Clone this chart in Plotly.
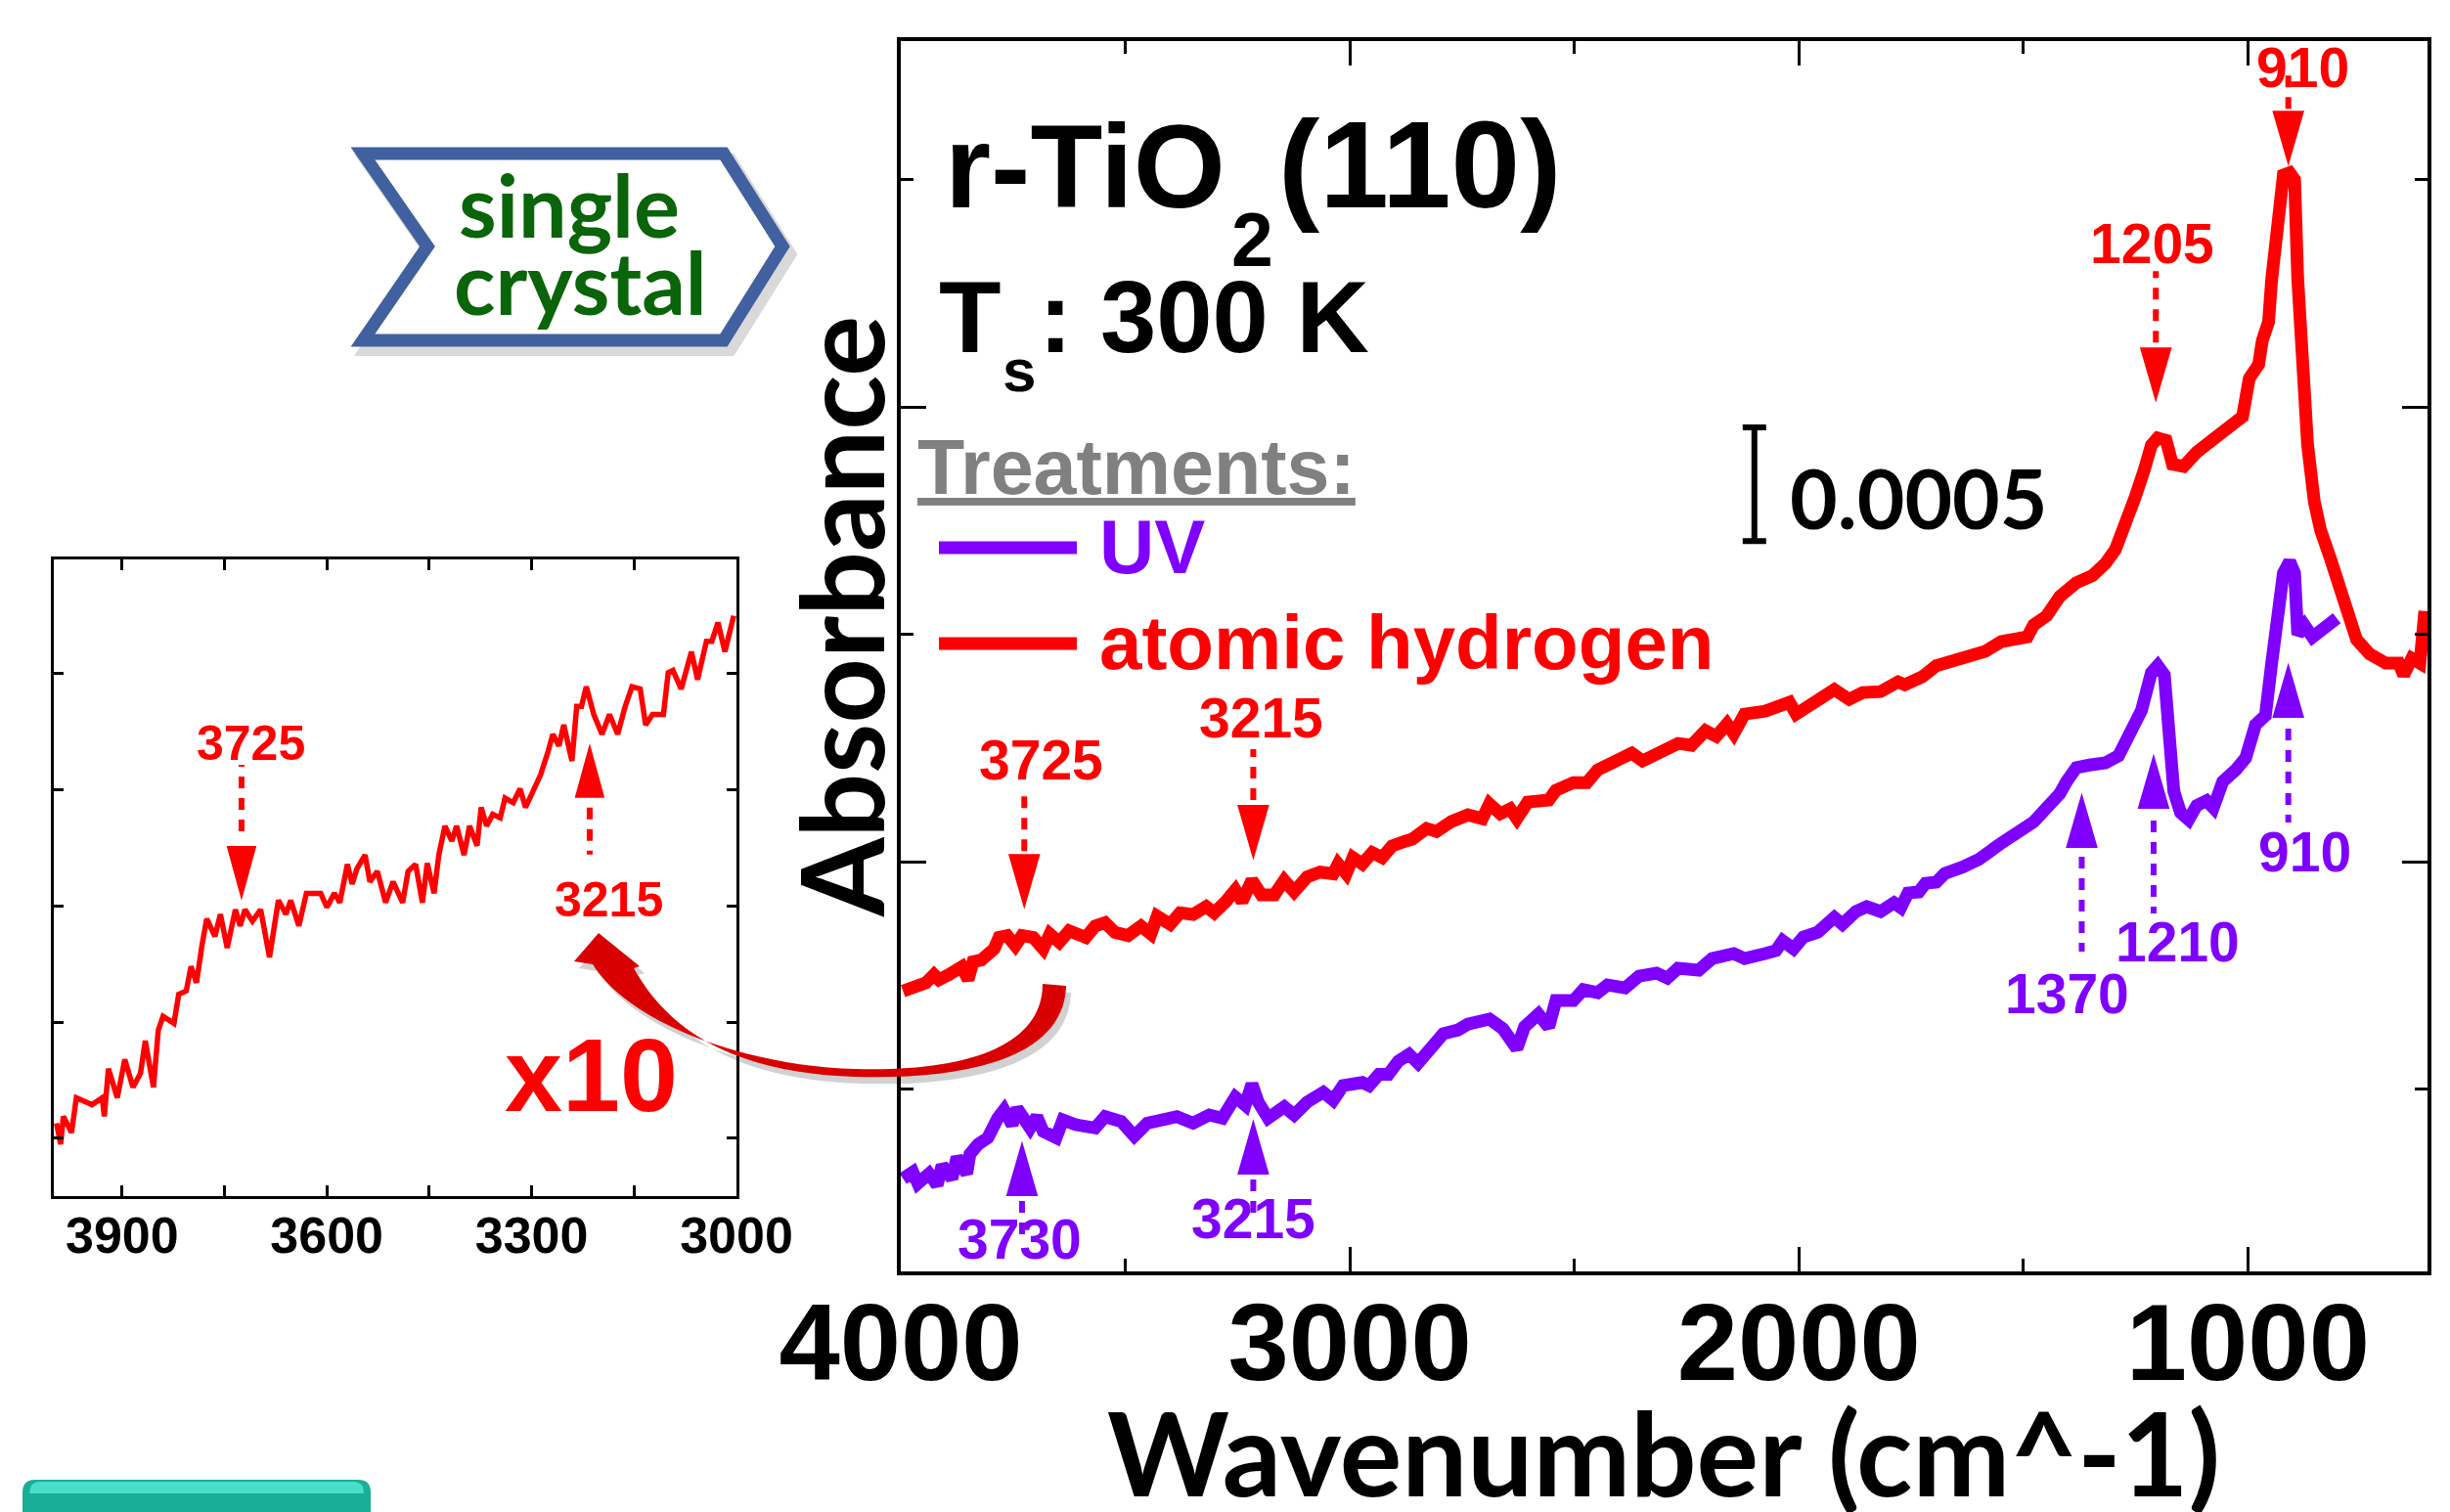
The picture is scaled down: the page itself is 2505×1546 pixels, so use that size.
import plotly.graph_objects as go

# ---------------- data (absorbance in units of 1e-4, wavenumber in cm^-1) ----------------
red_wn = [3995, 3966, 3944, 3926, 3915, 3893, 3875, 3864, 3850, 3839, 3821, 3806, 3792, 3781,
          3763, 3745, 3730, 3705, 3683, 3668, 3647, 3625, 3588, 3567, 3545, 3523, 3494, 3465,
          3443, 3429, 3400, 3378, 3349, 3320, 3302, 3276, 3255, 3240, 3218, 3197, 3168, 3146,
          3124, 3095, 3066, 3037, 3026, 3008, 2993, 2972, 2950, 2928, 2906, 2877, 2861, 2829,
          2807, 2774, 2737, 2705, 2689, 2665, 2643, 2628, 2604, 2557, 2541, 2502, 2472, 2448,
          2411, 2372, 2348, 2308, 2269, 2239, 2208, 2184, 2160, 2145, 2121, 2075, 2051, 2021,
          2006, 1958, 1921, 1888, 1858, 1818, 1779, 1764, 1725, 1694, 1636, 1585, 1549, 1491,
          1477, 1448, 1419, 1382, 1346, 1317, 1295, 1273, 1251, 1230, 1215, 1201, 1182, 1168,
          1143, 1114, 1077, 1041, 1012, 997, 976, 968, 954, 947, 932, 921, 907, 896, 889, 878,
          867, 852, 838, 816, 795, 780, 758, 729, 693, 664, 653, 635, 617, 606]
red_abs = [-5.69, -5.41, -5.33, -4.97, -5.19, -4.97, -4.83, -4.62, -5.19, -4.40, -4.33, -4.04,
           -3.83, -3.33, -3.25, -3.69, -3.25, -3.33, -3.83, -3.18, -3.54, -3.04, -3.33, -2.83,
           -2.68, -3.11, -3.25, -2.83, -3.18, -2.40, -2.75, -2.25, -2.32, -1.97, -2.25, -1.75,
           -1.25, -1.75, -0.82, -1.46, -1.46, -0.82, -1.32, -0.67, -0.46, -0.53, -0.10, -0.53,
           0.18, -0.10, 0.40, 0.18, 0.69, 0.90, 0.99, 1.46, 1.33, 1.76, 2.06, 1.89, 2.54, 2.11,
           2.32, 1.89, 2.62, 2.71, 3.14, 3.48, 3.48, 4.04, 4.34, 4.77, 4.43, 4.86, 5.20, 5.12,
           5.76, 5.51, 6.06, 5.63, 6.49, 6.62, 6.80, 7.01, 6.49, 7.14, 7.57, 7.14, 7.44, 7.48,
           7.91, 7.78, 8.13, 8.62, 8.95, 9.25, 9.68, 9.89, 10.41, 10.81, 11.66, 12.27, 12.58,
           13.12, 13.73, 14.77, 16.03, 17.28, 18.32, 18.63, 18.53, 17.48, 17.38, 18.01, 18.53,
           19.05, 19.57, 21.25, 21.87, 22.91, 23.74, 25.62, 28.33, 30.20, 30.30, 30.00, 25.62,
           21.44, 18.32, 15.82, 14.57, 13.32, 11.86, 10.81, 9.77, 9.14, 8.73, 8.73, 8.21, 8.94,
           8.73, 11.02]

uv_wn = [3995, 3973, 3962, 3937, 3919, 3908, 3886, 3875, 3853, 3846, 3828, 3806, 3784, 3770,
         3752, 3741, 3712, 3697, 3683, 3654, 3639, 3610, 3567, 3545, 3509, 3480, 3451, 3422,
         3385, 3349, 3313, 3284, 3255, 3233, 3218, 3204, 3182, 3146, 3124, 3095, 3059, 3037,
         3015, 2972, 2957, 2935, 2914, 2892, 2868, 2848, 2829, 2792, 2759, 2737, 2689, 2659,
         2628, 2611, 2580, 2557, 2541, 2502, 2480, 2448, 2426, 2387, 2356, 2317, 2293, 2269,
         2223, 2193, 2145, 2121, 2075, 2051, 2036, 2012, 1990, 1958, 1921, 1903, 1873, 1849,
         1818, 1788, 1773, 1757, 1733, 1718, 1694, 1675, 1636, 1600, 1549, 1506, 1477, 1448,
         1419, 1404, 1382, 1353, 1317, 1288, 1266, 1237, 1215, 1201, 1186, 1175, 1165, 1150,
         1132, 1114, 1092, 1077, 1056, 1027, 1005, 983, 961, 947, 936, 921, 907, 896, 889, 874,
         856, 824, 802]
uv_abs = [-13.94, -13.65, -14.15, -13.72, -14.22, -13.36, -13.94, -13.00, -13.72, -12.86, -12.43,
          -12.14, -11.28, -10.92, -11.57, -10.85, -11.71, -11.21, -11.86, -12.14, -11.36, -11.57,
          -11.71, -11.21, -11.43, -12.07, -11.50, -11.43, -11.21, -11.50, -11.14, -11.28, -10.35,
          -10.71, -9.78, -10.57, -11.28, -10.78, -11.14, -10.57, -10.14, -10.49, -9.85, -9.71,
          -9.85, -9.35, -9.35, -8.78, -8.47, -8.86, -8.43, -7.57, -7.40, -7.14, -6.92, -7.35,
          -8.22, -7.27, -6.71, -7.27, -6.11, -6.11, -5.63, -5.76, -5.42, -5.55, -5.03, -4.90,
          -5.12, -4.69, -4.77, -4.26, -4.04, -4.26, -4.04, -3.91, -3.48, -3.83, -3.31, -3.10,
          -2.45, -2.75, -2.19, -1.98, -2.19, -1.81, -2.02, -1.38, -1.33, -0.95, -0.90, -0.52,
          -0.24, 0.09, 0.82, 1.33, 1.75, 2.37, 2.99, 3.52, 4.14, 4.25, 4.35, 4.66, 5.60, 6.65,
          8.31, 8.62, 8.21, 5.81, 3.10, 2.16, 1.85, 2.47, 2.68, 2.37, 3.52, 4.04, 4.56, 6.02,
          6.43, 8.73, 10.19, 12.69, 13.21, 12.69, 9.98, 10.40, 9.88, 10.29, 10.71]

# x10 magnified inset of the atomic-hydrogen spectrum (arbitrary units)
inset_wn = [3996, 3990, 3986, 3974, 3967, 3944, 3929, 3926, 3920, 3907, 3896, 3884, 3873, 3866,
            3854, 3847, 3840, 3824, 3817, 3806, 3799, 3791, 3783, 3776, 3764, 3756, 3746, 3734,
            3727, 3720, 3709, 3697, 3684, 3671, 3660, 3653, 3641, 3630, 3609, 3600, 3589, 3581,
            3570, 3563, 3556, 3544, 3537, 3526, 3514, 3503, 3489, 3481, 3470, 3460, 3453, 3443,
            3436, 3427, 3417, 3410, 3399, 3391, 3380, 3374, 3366, 3357, 3346, 3339, 3327, 3317,
            3309, 3297, 3287, 3276, 3269, 3260, 3253, 3241, 3234, 3227, 3220, 3209, 3197, 3186,
            3174, 3163, 3153, 3141, 3133, 3123, 3107, 3100, 3093, 3081, 3066, 3057, 3044, 3036,
            3027, 3017, 3004]
inset_abs = [0.13, -0.05, 0.19, 0.05, 0.35, 0.29, 0.35, 0.19, 0.60, 0.35, 0.68, 0.44, 0.56,
             0.84, 0.44, 0.93, 1.05, 0.99, 1.24, 1.27, 1.48, 1.34, 1.66, 1.89, 1.74, 1.93, 1.64,
             1.97, 1.83, 1.97, 1.87, 1.97, 1.56, 2.05, 1.93, 2.05, 1.83, 2.11, 2.11, 1.99, 2.11,
             2.03, 2.36, 2.19, 2.32, 2.44, 2.21, 2.30, 2.03, 2.21, 2.03, 2.30, 2.36, 2.03, 2.37,
             2.11, 2.44, 2.69, 2.56, 2.69, 2.44, 2.69, 2.52, 2.85, 2.69, 2.79, 2.76, 2.93, 2.89,
             3.01, 2.85, 3.01, 3.13, 3.33, 3.48, 3.38, 3.56, 3.25, 3.72, 3.72, 3.89, 3.65, 3.48,
             3.65, 3.48, 3.72, 3.89, 3.87, 3.56, 3.65, 3.65, 4.01, 4.03, 3.87, 4.19, 3.95, 4.28,
             4.28, 4.44, 4.19, 4.50]

red_peaks = [3725, 3215, 1205, 910]
red_tips = [-1.94, 0.22, 20.34, 30.75]
uv_peaks = [3730, 3215, 1370, 1210, 910]
uv_tips = [-12.43, -11.48, 2.88, 4.60, 8.60]
inset_peaks = [3725, 3215]
inset_tips = [2.08, 3.37]
scale_bar_length = 5  # 0.0005 absorbance

# ---------------- style / layout config ----------------
W, H = 2505, 1546
RED = "#FF0000"
UV = "#7F00FF"
ARIAL = "Liberation Sans, Arial, sans-serif"
CALI = "Lato, Open Sans, sans-serif"

red_label_shift = [(17, 149), (8, 142), (-4, 159), (15, 97)]
red_dots = [(56, 118), (58, 110), (58, 131), (55, 97)]
uv_label_shift = [(-2, -97), (0, -98), (-15, -202), (25, -189), (17, -190)]
uv_dots = [(-58, -97), (-58, -98), (-62, -159), (-65, -160), (-64, -160)]
inset_label_shift = [(10, 157), (20, -156)]
inset_dots = [(67, 135), (-62, -110)]
inset_dirs = [1, -1]


def px(x):
    return x / W


def py(y):
    return 1 - y / H


def path_px(cmds):
    out = []
    for c in cmds:
        if isinstance(c, str):
            out.append(c)
        else:
            out.append(f"{px(c[0]):.5f},{py(c[1]):.5f}")
    return " ".join(out)


fig = go.Figure()

fig.add_trace(go.Scatter(x=uv_wn, y=uv_abs, mode="lines", line=dict(color=UV, width=13),
                         xaxis="x", yaxis="y", showlegend=False, hoverinfo="skip"))
fig.add_trace(go.Scatter(x=red_wn, y=red_abs, mode="lines", line=dict(color=RED, width=13),
                         xaxis="x", yaxis="y", showlegend=False, hoverinfo="skip"))
# scale bar
fig.add_trace(go.Scatter(x=[2099], y=[16.6], mode="markers",
                         marker=dict(size=1, color="rgba(0,0,0,0)"),
                         error_y=dict(type="data", array=[scale_bar_length / 2],
                                      arrayminus=[scale_bar_length / 2], color="black",
                                      thickness=6, width=12),
                         xaxis="x", yaxis="y", showlegend=False, hoverinfo="skip"))
# inset
fig.add_trace(go.Scatter(x=inset_wn, y=inset_abs, mode="lines", line=dict(color=RED, width=5.5),
                         xaxis="x2", yaxis="y2", showlegend=False, hoverinfo="skip"))

shapes = []
annots = []


def arrow(wn, tip, direction, dots, shift, label, color, xr, yr, size, half=15, hh=52):
    d = direction
    shapes.append(dict(type="path", xref=xr, yref=yr, xsizemode="pixel", ysizemode="pixel",
                       xanchor=wn, yanchor=tip,
                       path=f"M {-half},{d*hh} L {half},{d*hh} L 0,0 Z",
                       fillcolor=color, line=dict(color=color, width=2)))
    shapes.append(dict(type="line", xref=xr, yref=yr, xsizemode="pixel", ysizemode="pixel",
                       xanchor=wn, yanchor=tip, x0=0, x1=0, y0=dots[0], y1=dots[1],
                       line=dict(color=color, width=6, dash="12px,10px")))
    annots.append(dict(x=wn, y=tip, xref=xr, yref=yr, text=label, showarrow=False,
                       xshift=shift[0], yshift=shift[1], xanchor="center", yanchor="middle",
                       font=dict(family=ARIAL, size=size, color=color, weight="bold")))


for wn, tip, dts, sh in zip(red_peaks, red_tips, red_dots, red_label_shift):
    arrow(wn, tip, 1, dts, sh, str(wn), RED, "x", "y", 57)
for wn, tip, dts, sh in zip(uv_peaks, uv_tips, uv_dots, uv_label_shift):
    arrow(wn, tip, -1, dts, sh, str(wn), UV, "x", "y", 57)
for wn, tip, d, dts, sh in zip(inset_peaks, inset_tips, inset_dirs, inset_dots, inset_label_shift):
    arrow(wn, tip, d, dts, sh, str(wn), RED, "x2", "y2", 50, half=14, hh=51)


def text(t, x, baseline, size, color="black", family=ARIAL, xanchor="left", k=0.3465, **kw):
    annots.append(dict(x=px(x), y=py(baseline - k * size), xref="paper", yref="paper", text=t,
                       showarrow=False, xanchor=xanchor, yanchor="middle",
                       font=dict(family=family, size=size, color=color, weight="bold"), **kw))


# title block
text("r-TiO", 964, 212, 121)
text("2", 1280, 272, 77, xanchor="center")
text("(110)", 1305, 212, 127)
text("T", 958, 360, 104)
text("s", 1042, 400, 62, xanchor="center")
text(": 300 K", 1060, 360, 103)
text("<u>Treatments:</u>", 936, 505, 79, color="#808080")
text("UV", 1122, 586, 78, color=UV)
text("atomic hydrogen", 1122, 684, 78, color=RED)
text("0.0005", 1828, 541, 84, family=CALI, k=0.387)
text("x10", 604, 1136, 106, color=RED, xanchor="center")
text("Wavenumber (cm^-1)", 1701, 1530, 119, family=CALI, xanchor="center", k=0.387)
annots.append(dict(x=px(859), y=py(631), xref="paper", yref="paper", text="Absorbance",
                   textangle=-90, showarrow=False, xanchor="center", yanchor="middle",
                   font=dict(family=CALI, size=116, color="black", weight="bold")))
# badge text
text("single", 582, 243, 88, color="#0A640A", family=CALI, xanchor="center", k=0.387)
text("crystal", 593, 322, 88, color="#0A640A", family=CALI, xanchor="center", k=0.387)

# legend lines
shapes.append(dict(type="line", xref="paper", yref="paper", x0=px(960), x1=px(1101),
                   y0=py(560), y1=py(560), line=dict(color=UV, width=13)))
shapes.append(dict(type="line", xref="paper", yref="paper", x0=px(960), x1=px(1101),
                   y0=py(658), y1=py(658), line=dict(color=RED, width=13)))

# badge (chevron)
badge = [(371, 157), (740, 157), (800, 252), (740, 348), (371, 348), (437, 252)]
shadow = [(x + 6, y + 8) for x, y in badge]
shapes.append(dict(type="path", xref="paper", yref="paper",
                   path=path_px(["M", shadow[0]] + sum([["L", p] for p in shadow[1:]], []) + ["Z"]),
                   line=dict(color="rgba(0,0,0,0.15)", width=16), fillcolor="rgba(0,0,0,0)"))
shapes.append(dict(type="path", xref="paper", yref="paper",
                   path=path_px(["M", badge[0]] + sum([["L", p] for p in badge[1:]], []) + ["Z"]),
                   line=dict(color="#41609F", width=13), fillcolor="white"))

# curved x10 arrow (shadow + body)
curve = ["M", (1090, 1008), "C", (1088, 1085), (980, 1104), (875, 1101),
         "C", (770, 1098), (690, 1066), (648, 990),
         "L", (654, 988), "L", (612, 954), "L", (587, 983), "L", (606, 986),
         "C", (645, 1048), (765, 1090), (875, 1093),
         "C", (975, 1096), (1066, 1075), (1066, 1006), "Z"]
curve_sh = [c if isinstance(c, str) else (c[0] + 5, c[1] + 7) for c in curve]
shapes.append(dict(type="path", xref="paper", yref="paper", path=path_px(curve_sh),
                   fillcolor="rgba(0,0,0,0.18)", line=dict(width=0)))
shapes.append(dict(type="path", xref="paper", yref="paper", path=path_px(curve),
                   fillcolor="#D80000", line=dict(width=0)))

# teal button at bottom-left
shapes.append(dict(type="path", xref="paper", yref="paper",
                   path=path_px(["M", (23, 1546), "L", (23, 1526), "Q", (23, 1513), (36, 1513),
                                 "L", (366, 1513), "Q", (379, 1513), (379, 1526), "L", (379, 1546), "Z"]),
                   fillcolor="#19AE96", line=dict(width=0)))
shapes.append(dict(type="path", xref="paper", yref="paper",
                   path=path_px(["M", (30, 1527), "Q", (31, 1515), (40, 1515), "L", (362, 1515),
                                 "Q", (372, 1515), (372, 1527), "Z"]),
                   fillcolor="#49DEC8", line=dict(width=0)))

axis_common = dict(showline=True, linecolor="black", mirror="ticks", ticks="inside",
                   tickcolor="black", showgrid=False, zeroline=False, automargin=False)

fig.update_layout(
    width=W, height=H, autosize=False,
    margin=dict(l=0, r=0, t=0, b=0, pad=0, autoexpand=False),
    paper_bgcolor="white", plot_bgcolor="white",
    showlegend=False,
    xaxis=dict(domain=[px(921), px(2482)], range=[4000, 600], anchor="y",
               dtick=1000, tick0=0, ticklen=25, tickwidth=3, linewidth=4,
               minor=dict(dtick=500, ticklen=13, tickwidth=3, ticks="inside", tickcolor="black"),
               tickfont=dict(family=ARIAL, size=112, color="black", weight="bold"),
               ticklabelstandoff=-27, **axis_common),
    yaxis=dict(domain=[py(1300), py(42)], range=[-18.02, 36.09], anchor="x",
               dtick=20, tick0=0, ticklen=26, tickwidth=3, linewidth=4, showticklabels=False,
               minor=dict(dtick=10, ticklen=13, tickwidth=3, ticks="inside", tickcolor="black"),
               **axis_common),
    xaxis2=dict(domain=[px(55), px(753)], range=[4000, 3000], anchor="y2",
                dtick=300, tick0=3000, ticklen=11, tickwidth=2.5, linewidth=2.5,
                minor=dict(dtick=150, ticklen=11, tickwidth=2.5, ticks="inside", tickcolor="black"),
                tickfont=dict(family=ARIAL, size=52, color="black", weight="bold"),
                ticklabelstandoff=-7, **axis_common),
    yaxis2=dict(domain=[py(1223), py(572)], range=[-0.497, 4.985], anchor="x2",
                dtick=1, tick0=0, ticklen=10, tickwidth=2.5, linewidth=2.5, showticklabels=False,
                **axis_common),
    shapes=shapes,
    annotations=annots,
)

fig.write_html("out.html")
